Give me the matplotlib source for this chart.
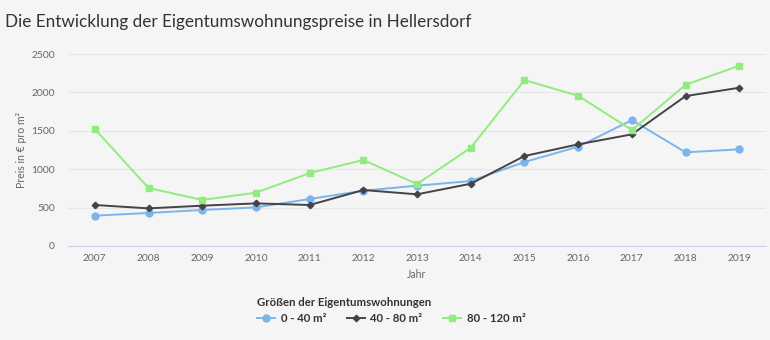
import numpy as np
import matplotlib.pyplot as plt
from matplotlib.lines import Line2D

plt.rcParams['font.family'] = ['Lato', 'DejaVu Sans']

years = [2007, 2008, 2009, 2010, 2011, 2012, 2013, 2014, 2015, 2016, 2017, 2018, 2019]
small = [395, 430, 469, 503, 612, 720, 786, 846, 1094, 1293, 1640, 1220, 1259]
medium = [534, 490, 525, 555, 534, 729, 673, 811, 1172, 1324, 1454, 1953, 2061]
large = [1523, 755, 600, 694, 950, 1120, 807, 1280, 2161, 1957, 1510, 2100, 2348]

series_names = ["0 - 40 m²", "40 - 80 m²", "80 - 120 m²"]
colors = ["#7cb5ec", "#434348", "#90ed7d"]
markers = ["o", "D", "s"]
msizes = [5, 3.3, 5]

bg = "#f5f5f5"
fig = plt.figure(figsize=(7.7, 3.4), dpi=100, facecolor=bg)
ax = fig.add_axes([0.0883, 0.2765, 0.9067, 0.5645], facecolor=bg)

for vals, name, c, m, ms in zip([small, medium, large], series_names, colors, markers, msizes):
    ax.plot(years, vals, color=c, marker=m, markersize=ms, linewidth=1.4, label=name)

ax.set_xlim(2006.5, 2019.5)
ax.set_ylim(0, 2500)
ax.set_xticks(years)
ax.set_yticks(np.arange(0, 2501, 500))
ax.tick_params(axis="both", length=0, labelsize=7.4, labelcolor="#666666")
ax.tick_params(axis="y", pad=9.5)
ax.tick_params(axis="x", pad=6)
ax.grid(axis="y", color="#e6e6e6", linewidth=0.8)
ax.set_axisbelow(True)
for s in ["top", "right", "left"]:
    ax.spines[s].set_visible(False)
ax.spines["bottom"].set_color("#ccd6eb")

ax.set_ylabel("Preis in € pro m²", fontsize=7.6, color="#666666", labelpad=3)
ax.set_xlabel("Jahr", fontsize=7.6, color="#666666", labelpad=4)

fig.text(0.006, 0.935, "Die Entwicklung der Eigentumswohnungspreise in Hellersdorf",
         fontsize=12.3, color="#333333", va="center", ha="left")

# legend below the plot, title left-aligned over the entries
handles = [Line2D([0], [0], color=c, marker=m, markersize=ms, linewidth=1.4)
           for c, m, ms in zip(colors, markers, msizes)]
leg = fig.legend(handles, series_names, loc="center", bbox_to_anchor=(0.508, 0.087),
                 ncol=3, frameon=False, fontsize=8.2, handlelength=1.6,
                 columnspacing=1.8, handletextpad=0.5,
                 title="Größen der Eigentumswohnungen",
                 title_fontproperties={"weight": "bold", "size": 8.2})
leg._legend_box.align = "left"
for t in leg.get_texts():
    t.set_color("#333333")
    t.set_fontweight("bold")
leg.get_title().set_color("#333333")

fig.savefig("out.png", dpi=100, facecolor=bg)
